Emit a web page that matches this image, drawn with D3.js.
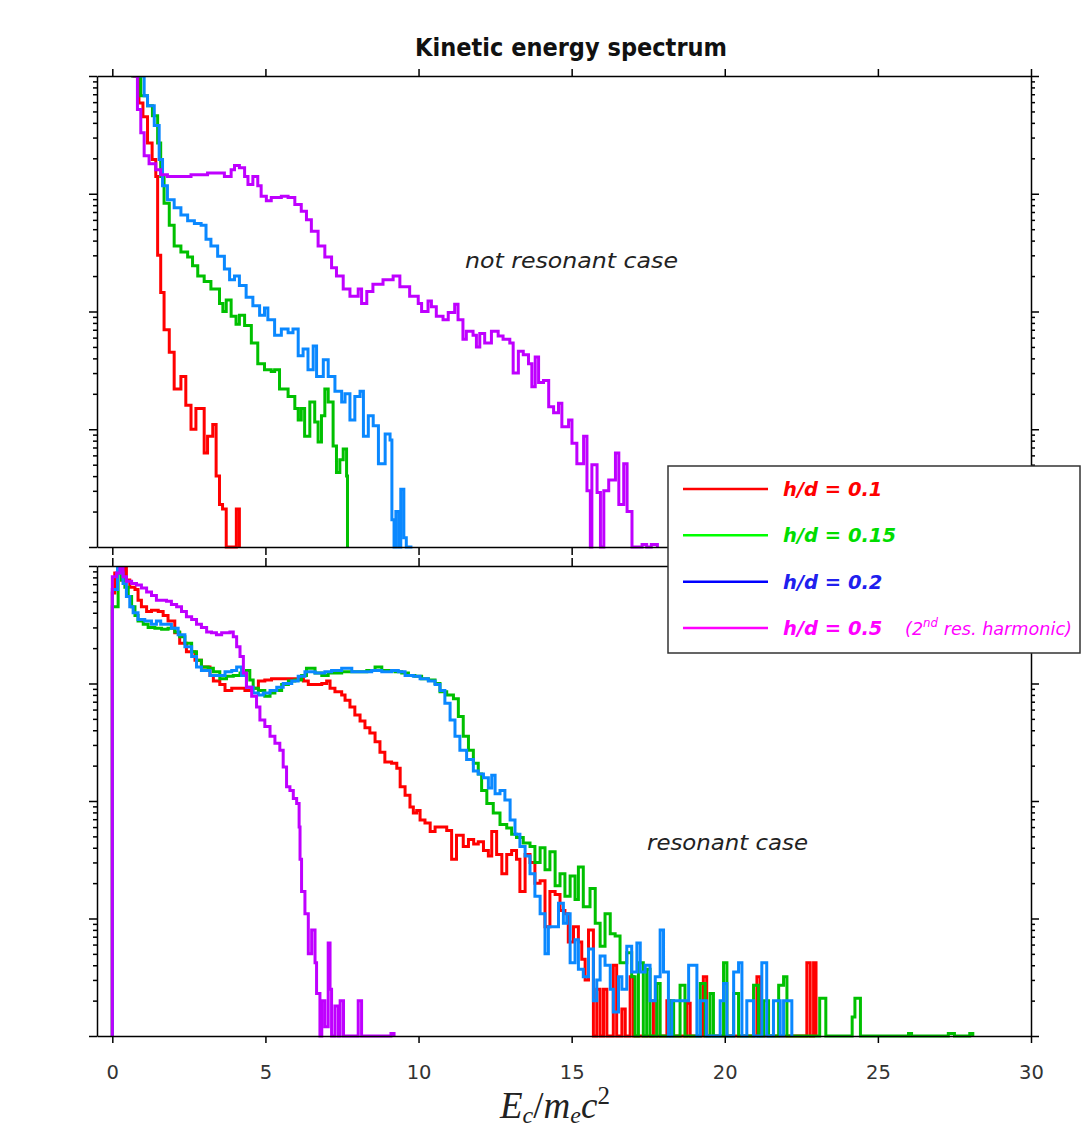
<!DOCTYPE html>
<html>
<head>
<meta charset="utf-8">
<script src="https://cdn.jsdelivr.net/npm/d3@7"></script>
<style>
  body { margin: 0; background: #fff; }
  svg { display: block; }
</style>
</head>
<body>
<svg id="vis" width="1081" height="1128"></svg>
<script>
// x ticks (energy) and legend entries
var xTicks = [0, 5, 10, 15, 20, 25, 30];
var seriesNames = ["h/d = 0.1", "h/d = 0.15", "h/d = 0.2", "h/d = 0.5"];
var lineColors = ["#ff0000", "#00c000", "#0a88ff", "#bf00ff"];
var legendLineColors = ["#ff0000", "#00ff00", "#0000ff", "#ff00ff"];
var legendTextColors = ["#ff0000", "#00dd00", "#2020ee", "#ff00ff"];

// not resonant case: [E/mc^2, counts]
var topRed = [[0.6,20000],[0.71,10000],[0.87,5900],[1.0,4500],[1.15,2700],[1.3,1950],[1.42,1400],[1.48,300],[1.58,145],[1.69,70],[1.86,45],[2.02,22],[2.24,28],[2.4,16],[2.57,10],[2.73,15],[2.9,15],[3.0,6.3],[3.11,8.7],[3.28,11],[3.39,4],[3.5,2.3],[3.6,2.1],[3.72,0],[4.05,2.1],[4.15,0]];
var topGreen = [[0.6,20000],[0.66,10000],[0.93,6800],[1.15,5600],[1.31,4600],[1.48,2700],[1.58,1400],[1.69,830],[1.86,540],[2.02,360],[2.24,320],[2.46,290],[2.62,245],[2.79,200],[3.0,180],[3.22,155],[3.5,117],[3.61,100],[3.72,125],[3.88,91],[4.04,78],[4.15,93],[4.32,76],[4.54,54],[4.75,36],[4.97,32],[5.19,31],[5.3,32],[5.46,22],[5.74,19],[5.96,15],[6.07,12],[6.17,15],[6.28,8.7],[6.45,17],[6.61,11.5],[6.72,7.8],[6.83,13],[6.94,22],[7.05,17],[7.21,7.2],[7.32,4.3],[7.43,5.5],[7.54,6.8],[7.65,4],[7.68,0]];
var topBlue = [[0.8,20000],[0.87,10000],[1.04,6800],[1.15,5600],[1.37,3800],[1.53,1950],[1.64,1170],[1.8,890],[2.02,760],[2.24,660],[2.46,590],[2.68,560],[2.9,540],[3.06,410],[3.22,360],[3.44,295],[3.66,230],[3.83,186],[3.99,200],[4.15,166],[4.37,132],[4.59,112],[4.81,93],[4.97,107],[5.08,85],[5.3,63],[5.52,71],[5.74,66],[5.9,71],[6.07,42],[6.23,48],[6.39,32],[6.56,51],[6.67,28],[6.89,39],[7.05,28],[7.27,21],[7.49,17],[7.6,20],[7.76,12],[7.92,19],[8.09,21],[8.2,8.7],[8.36,13],[8.52,10.7],[8.69,5.1],[8.91,9.1],[9.07,8.1],[9.13,1.7],[9.2,0],[9.26,2],[9.36,0],[9.42,3.1],[9.52,1.2],[9.6,0],[9.8,0]];
var topPurple = [[0.6,20000],[0.71,10000],[0.82,5200],[0.93,3300],[1.04,2100],[1.2,1800],[1.42,1600],[1.58,1450],[1.8,1400],[2.13,1400],[2.57,1450],[3.11,1500],[3.66,1400],[3.88,1600],[3.99,1740],[4.15,1660],[4.32,1400],[4.43,1200],[4.59,1400],[4.75,1170],[4.86,950],[5.03,870],[5.19,930],[5.52,950],[5.74,930],[5.96,810],[6.17,710],[6.34,600],[6.5,480],[6.72,360],[6.94,290],[7.16,235],[7.32,200],[7.54,155],[7.76,135],[8.03,155],[8.14,117],[8.31,148],[8.51,170],[8.84,186],[9.17,200],[9.39,162],[9.71,135],[9.99,117],[10.1,100],[10.31,123],[10.42,110],[10.58,91],[10.8,85],[10.97,98],[11.18,115],[11.29,85],[11.45,58],[11.56,68],[11.78,63],[11.89,50],[12.0,65],[12.16,54],[12.38,68],[12.6,62],[12.76,58],[12.98,54],[13.09,30],[13.26,46],[13.42,43],[13.59,36],[13.7,23],[13.81,41],[13.92,25],[14.08,26],[14.25,15.5],[14.41,13.8],[14.57,16.6],[14.68,10.5],[14.9,12],[15.01,7.6],[15.17,5.1],[15.39,8.7],[15.5,3],[15.61,0],[15.66,5],[15.83,2.9],[15.94,0],[16.05,3],[16.21,3.7],[16.43,6.3],[16.54,2.3],[16.7,5.1],[16.81,2],[16.97,0],[17.3,1.05],[17.45,0],[17.6,1.05],[17.8,0]];

// resonant case
var botRed = [[0,0],[0,5900],[0.08,8700],[0.19,9800],[0.3,7600],[0.41,9800],[0.46,7600],[0.57,6600],[0.74,6300],[0.84,5100],[0.95,4500],[1.12,4100],[1.28,4200],[1.5,4100],[1.66,3800],[1.82,3400],[2.04,2700],[2.2,2200],[2.42,1860],[2.7,1580],[2.91,1380],[3.19,1170],[3.3,1050],[3.51,980],[3.68,870],[3.9,910],[4.11,910],[4.33,870],[4.55,910],[4.77,1050],[4.98,1070],[5.2,1100],[6.07,1100],[6.24,1050],[6.4,980],[6.62,980],[6.84,1000],[7.0,1050],[7.11,910],[7.27,850],[7.49,800],[7.6,720],[7.76,630],[7.92,540],[8.09,480],[8.25,420],[8.41,380],[8.58,320],[8.74,260],[8.9,215],[9.12,210],[9.29,190],[9.4,132],[9.56,112],[9.72,89],[9.83,79],[9.94,83],[10.05,69],[10.21,65],[10.38,55],[10.54,60],[10.76,60],[10.92,56],[11.08,32],[11.24,51],[11.46,41],[11.63,47],[11.8,43],[11.95,45],[12.12,38],[12.28,34],[12.39,55],[12.55,35],[12.72,24],[12.88,35],[13.04,38],[13.2,32],[13.31,17],[13.48,35],[13.64,30],[13.8,20],[13.97,21],[14.13,8.5],[14.29,17],[14.46,16],[14.62,11.7],[14.78,11],[14.89,6.3],[15.06,8.5],[15.22,6.3],[15.33,4.5],[15.44,3],[15.55,8],[15.71,0],[15.82,2.5],[15.93,0],[16.04,2.5],[16.15,0],[16.36,4],[16.47,0],[16.64,1.7],[16.75,0],[16.91,3.2],[17.02,0],[17.67,2],[17.78,0],[18.11,2],[18.22,0],[18.76,1.9],[18.87,0],[19.3,3.2],[19.41,0],[21.05,3.2],[21.16,0],[22.68,4.2],[22.79,0],[22.9,4.2],[22.98,0]];
var botGreen = [[0,0],[0,4500],[0.19,8700],[0.3,7600],[0.41,6600],[0.52,5500],[0.63,4500],[0.74,3800],[0.84,3400],[1.01,3200],[1.17,3000],[1.39,2950],[1.61,2900],[1.82,2950],[2.04,2750],[2.2,2500],[2.37,2200],[2.59,1860],[2.75,1580],[2.91,1380],[3.13,1350],[3.3,1260],[3.51,1100],[3.73,1150],[3.95,1170],[4.17,1230],[4.38,1290],[4.49,1070],[4.6,910],[4.77,870],[4.98,780],[5.15,830],[5.31,870],[5.53,980],[5.75,1050],[5.96,1070],[6.18,1170],[6.34,1350],[6.62,1230],[6.84,1170],[7.05,1230],[7.27,1230],[7.49,1260],[7.71,1260],[8.03,1260],[8.31,1290],[8.58,1380],[8.8,1290],[9.01,1290],[9.23,1260],[9.45,1230],[9.67,1170],[9.88,1150],[10.1,1100],[10.32,1070],[10.54,1000],[10.7,850],[10.92,800],[11.14,740],[11.3,525],[11.46,355],[11.63,270],[11.79,210],[11.95,170],[12.06,123],[12.23,95],[12.44,79],[12.66,63],[12.88,59],[13.04,52],[13.2,49],[13.42,44],[13.64,41],[13.8,30],[13.97,40],[14.13,26],[14.29,37],[14.46,19],[14.62,24],[14.78,15.5],[14.95,23],[15.11,14.5],[15.22,27.5],[15.38,12.6],[15.6,18],[15.77,9.1],[15.93,5.8],[16.09,11],[16.26,7.4],[16.42,7.1],[16.58,4.2],[16.8,5.1],[16.96,3.2],[17.07,0],[17.18,4.2],[17.34,0],[17.45,3.7],[17.56,0],[17.78,2.8],[17.89,0],[18.22,2],[18.33,0],[18.54,2.7],[18.7,0],[19.2,2.8],[19.36,0],[19.52,2.3],[19.63,0],[19.96,4.2],[20.07,0],[20.29,2.3],[20.45,0],[20.94,2.7],[21.1,0],[21.27,2],[21.43,0],[21.76,2.7],[21.92,3.2],[22.03,0],[23.1,2.1],[23.3,0],[24.16,1.45],[24.25,2.1],[24.43,0],[26.0,1.05],[26.1,0],[27.3,1.05],[27.5,0],[28.0,1.05],[28.1,0]];
var botBlue = [[0,0],[0,6300],[0.17,9800],[0.25,8700],[0.35,7100],[0.46,5500],[0.57,4500],[0.68,4000],[0.84,3500],[1.06,3400],[1.28,3200],[1.44,3400],[1.58,3200],[1.72,3200],[1.93,2950],[2.15,2600],[2.37,2050],[2.59,1700],[2.75,1380],[2.91,1290],[3.19,1170],[3.46,1170],[3.68,1260],[3.9,1290],[4.06,1380],[4.22,1170],[4.38,930],[4.6,830],[4.77,800],[4.93,830],[5.15,870],[5.37,930],[5.58,1000],[5.86,1050],[6.07,1150],[6.29,1260],[6.62,1230],[6.94,1260],[7.16,1290],[7.49,1350],[7.82,1260],[8.14,1260],[8.47,1290],[8.8,1260],[9.12,1290],[9.34,1260],[9.56,1170],[9.83,1150],[10.05,1100],[10.32,1050],[10.54,980],[10.7,870],[10.86,680],[11.03,490],[11.19,355],[11.35,270],[11.57,225],[11.79,180],[11.95,170],[12.12,158],[12.28,129],[12.39,166],[12.5,115],[12.66,123],[12.82,102],[12.99,69],[13.15,52],[13.31,41],[13.48,34],[13.64,24],[13.8,15.5],[13.97,11],[14.13,5],[14.24,8.5],[14.4,8.5],[14.57,13.5],[14.73,9.1],[14.84,11],[14.95,4.2],[15.11,6.6],[15.22,3.7],[15.38,3.2],[15.55,5.5],[15.71,2],[15.82,3],[15.93,4.8],[16.09,4],[16.26,2.5],[16.36,1.6],[16.53,3.2],[16.64,2.5],[16.8,5.8],[16.96,3.5],[17.13,6.2],[17.24,3.5],[17.4,4],[17.56,2],[17.73,3.2],[17.89,8],[18.0,3.5],[18.16,0],[18.27,2],[18.71,2],[18.82,4],[18.98,4],[19.09,0],[19.2,2],[19.4,0],[19.85,2],[19.96,2.8],[20.07,0],[20.29,3.5],[20.45,4.2],[20.56,0],[20.72,2],[20.94,0],[21.21,4.2],[21.37,0],[21.59,2],[21.81,0],[21.92,2],[22.19,0]];
var botPurple = [[0,0],[0,8100],[0.14,8700],[0.25,9800],[0.35,8100],[0.46,7400],[0.63,7100],[0.79,6900],[0.95,6500],[1.12,6000],[1.28,5600],[1.44,5100],[1.61,5100],[1.77,5000],[1.93,4700],[2.1,4500],[2.26,4100],[2.42,3700],[2.59,3500],[2.75,3200],[2.91,3000],[3.08,2750],[3.24,2700],[3.4,2600],[3.57,2700],[3.73,2700],[3.84,2750],[3.95,2500],[4.06,2050],[4.17,1700],[4.28,1230],[4.38,930],[4.55,780],[4.71,630],[4.82,490],[4.98,430],[5.15,355],[5.31,310],[5.47,270],[5.58,195],[5.69,132],[5.8,123],[5.91,105],[6.02,95],[6.1,60],[6.13,32],[6.18,17],[6.29,11],[6.4,5],[6.51,8],[6.62,4.2],[6.67,2.3],[6.78,0],[6.84,2],[6.94,1.2],[7.05,6.2],[7.11,2.5],[7.16,0],[7.27,1.8],[7.38,0],[7.44,2],[7.55,0],[8.03,2],[8.14,0],[9.1,1.05],[9.2,0]];

var svg = d3.select("#vis");
var left = 97, right = 1031;
var topPanel = {top: 76, bottom: 547, series: [topRed, topGreen, topBlue, topPurple], id: "clipTop"};
var botPanel = {top: 566, bottom: 1036, series: [botRed, botGreen, botBlue, botPurple], id: "clipBot"};

var x = d3.scaleLinear().domain([-0.5, 30]).range([left, right]);

svg.append("rect").attr("width", 1081).attr("height", 1128).attr("fill", "#fff");

function drawPanel(p){
  var y = d3.scaleLog().domain([1, 10000]).range([p.bottom, p.top]);

  svg.append("clipPath").attr("id", p.id)
    .append("rect")
    .attr("x", left).attr("y", p.top)
    .attr("width", right - left).attr("height", p.bottom - p.top + 2);

  var line = d3.line()
    .x(function(d){ return x(d[0]); })
    .y(function(d){ return y(Math.max(d[1], 1)); })
    .curve(d3.curveStepAfter);

  var g = svg.append("g").attr("clip-path", "url(#" + p.id + ")");
  p.series.forEach(function(s, i){
    g.append("path")
      .datum(s)
      .attr("fill", "none")
      .attr("stroke", lineColors[i])
      .attr("stroke-width", 3)
      .attr("stroke-linejoin", "miter")
      .attr("d", line);
  });

  // log y axes, left and right, major + minor ticks
  var major = y.ticks().filter(function(v){ return Math.abs(Math.log10(v) - Math.round(Math.log10(v))) < 1e-9; });
  var minor = y.ticks().filter(function(v){ return major.indexOf(v) < 0; });
  [[d3.axisLeft, left], [d3.axisRight, right]].forEach(function(a){
    svg.append("g").attr("class", "ax")
      .attr("transform", "translate(" + a[1] + ",0)")
      .call(a[0](y).tickValues(major).tickSize(8).tickSizeOuter(0).tickFormat(""));
    svg.append("g").attr("class", "ax")
      .attr("transform", "translate(" + a[1] + ",0)")
      .call(a[0](y).tickValues(minor).tickSize(4).tickSizeOuter(0).tickFormat(""))
      .call(function(s){ s.select(".domain").remove(); });
  });
  return y;
}

drawPanel(topPanel);
drawPanel(botPanel);

// x axes
svg.append("g").attr("class", "ax").attr("transform", "translate(0," + topPanel.top + ")")
  .call(d3.axisTop(x).tickValues(xTicks).tickSize(7).tickSizeOuter(0).tickFormat(""));
svg.append("g").attr("class", "ax").attr("transform", "translate(0," + topPanel.bottom + ")")
  .call(d3.axisBottom(x).tickValues(xTicks).tickSize(8).tickSizeOuter(0).tickFormat(""));
svg.append("g").attr("class", "ax").attr("transform", "translate(0," + botPanel.top + ")")
  .call(d3.axisTop(x).tickValues(xTicks).tickSize(8).tickSizeOuter(0).tickFormat(""));
svg.append("g").attr("class", "ax xlab").attr("transform", "translate(0," + botPanel.bottom + ")")
  .call(d3.axisBottom(x).tickValues(xTicks).tickSize(7).tickPadding(22).tickSizeOuter(0));

svg.selectAll(".ax path, .ax line").attr("stroke", "#000").attr("stroke-width", 1.5);
svg.selectAll(".xlab text")
  .attr("font-family", "DejaVu Sans")
  .attr("font-size", 19.5)
  .attr("fill", "#333");

// title and annotations
svg.append("text")
  .attr("x", 571).attr("y", 56)
  .attr("text-anchor", "middle")
  .attr("font-family", "DejaVu Sans")
  .attr("font-weight", "bold")
  .attr("font-size", 25)
  .attr("textLength", 312)
  .attr("lengthAdjust", "spacingAndGlyphs")
  .attr("fill", "#111")
  .text("Kinetic energy spectrum");

svg.append("text")
  .attr("x", 465).attr("y", 268)
  .attr("font-family", "DejaVu Sans").attr("font-style", "italic")
  .attr("font-size", 22).attr("textLength", 213).attr("lengthAdjust", "spacingAndGlyphs")
  .attr("fill", "#222")
  .text("not resonant case");

svg.append("text")
  .attr("x", 647).attr("y", 850)
  .attr("font-family", "DejaVu Sans").attr("font-style", "italic")
  .attr("font-size", 22).attr("textLength", 161).attr("lengthAdjust", "spacingAndGlyphs")
  .attr("fill", "#222")
  .text("resonant case");

// x label  E_c / m_e c^2
var xl = svg.append("text")
  .attr("x", 500).attr("y", 1118)
  .attr("font-family", "Liberation Serif").attr("font-style", "italic")
  .attr("font-size", 37).attr("fill", "#222");
xl.append("tspan").text("E");
xl.append("tspan").attr("dy", 5).attr("font-size", 24).text("c");
xl.append("tspan").attr("dy", -5).attr("font-style", "normal").text("/");
xl.append("tspan").text("m");
xl.append("tspan").attr("dy", 5).attr("font-size", 24).text("e");
xl.append("tspan").attr("dy", -5).text("c");
xl.append("tspan").attr("dy", -14).attr("font-size", 25).attr("font-style", "normal").text("2");

// legend
var lg = svg.append("g");
lg.append("rect")
  .attr("x", 668).attr("y", 466).attr("width", 412).attr("height", 187)
  .attr("fill", "#fff").attr("stroke", "#333").attr("stroke-width", 1.5);
var rowY = d3.scalePoint().domain(seriesNames).range([489, 628]);
seriesNames.forEach(function(name, i){
  var yy = rowY(name);
  lg.append("line")
    .attr("x1", 683).attr("x2", 768).attr("y1", yy).attr("y2", yy)
    .attr("stroke", legendLineColors[i]).attr("stroke-width", 2.5);
  lg.append("text")
    .attr("x", 783).attr("y", yy + 7)
    .attr("font-family", "DejaVu Sans").attr("font-weight", "bold").attr("font-style", "italic")
    .attr("font-size", 19.5).attr("fill", legendTextColors[i])
    .text(name);
  if (i === 3) {
    var h = lg.append("text")
      .attr("x", 905).attr("y", yy + 7)
      .attr("font-family", "DejaVu Sans").attr("font-style", "italic")
      .attr("font-size", 18).attr("textLength", 167).attr("lengthAdjust", "spacingAndGlyphs")
      .attr("fill", legendTextColors[i]);
    h.append("tspan").text("(2");
    h.append("tspan").attr("dy", -8).attr("font-size", 12).text("nd");
    h.append("tspan").attr("dy", 8).text(" res. harmonic)");
  }
});
</script>
</body>
</html>
